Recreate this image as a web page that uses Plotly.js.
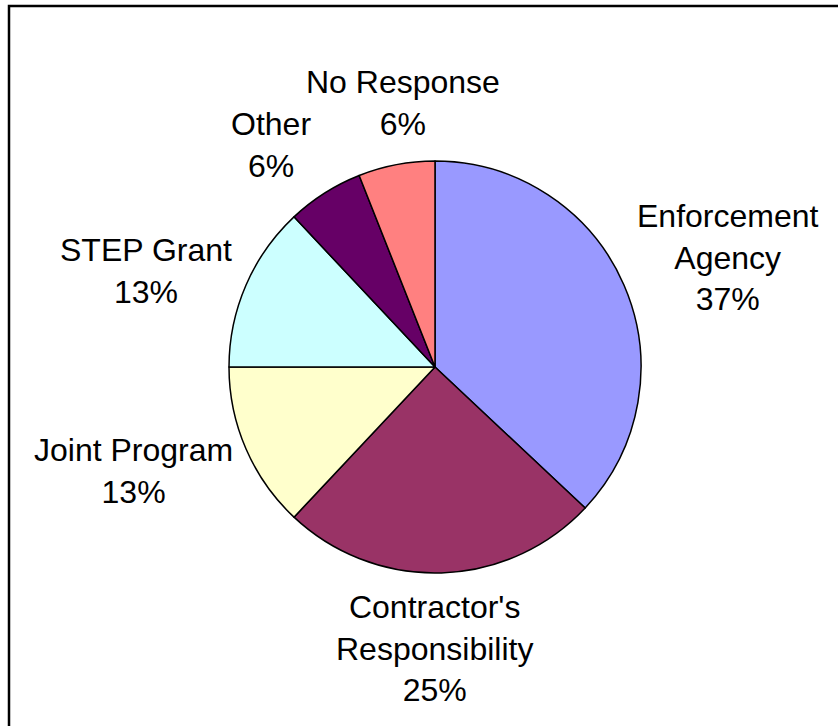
<!DOCTYPE html>
<html>
<head>
<meta charset="utf-8">
<script src="https://cdn.plot.ly/plotly-3.0.1.min.js"></script>
<style>html,body{margin:0;padding:0;background:#fff;}#chart{width:838px;height:726px;}</style>
</head>
<body>
<div id="chart"></div>
<script>
var labels = ["Enforcement<br>Agency", "Contractor's<br>Responsibility", "Joint Program", "STEP Grant", "Other", "No Response"];
var values = [37, 25, 13, 13, 6, 6];
var colors = ["#9999FF", "#993366", "#FFFFCC", "#CCFFFF", "#660066", "#FF8080"];
// label block centres (pixels)
var labelX = [728, 435, 133, 145.5, 270.5, 402.5];
var labelY = [257, 648, 471, 270.5, 145, 103];

var W = 838, H = 726, cx = 435, cy = 367, r = 206;
var font = {family: "Liberation Sans, Arial, sans-serif", size: 32, color: "#000"};
var trace = {
  type: "pie",
  labels: labels,
  values: values,
  sort: false,
  direction: "clockwise",
  rotation: 0,
  marker: {colors: colors, line: {color: "#000", width: 1.5}},
  textinfo: "none",
  hoverinfo: "none",
  automargin: false,
  domain: {x: [(cx - r) / W, (cx + r) / W], y: [1 - (cy + r) / H, 1 - (cy - r) / H]}
};
var annotations = labels.map(function (l, i) {
  return {
    xref: "paper", yref: "paper",
    x: labelX[i] / W, y: 1 - labelY[i] / H,
    xanchor: "center", yanchor: "middle",
    text: l + "<br>" + values[i] + "%",
    showarrow: false, font: font, align: "center"
  };
});
var layout = {
  width: W, height: H,
  margin: {l: 0, r: 0, t: 0, b: 0},
  showlegend: false,
  paper_bgcolor: "#fff",
  annotations: annotations,
  shapes: [{type: "rect", xref: "paper", yref: "paper", x0: 9 / W, x1: 1.05, y0: -0.05, y1: 1 - 6 / H, line: {color: "#000", width: 2.5}}]
};
Plotly.newPlot("chart", [trace], layout, {staticPlot: true});
</script>
</body>
</html>
